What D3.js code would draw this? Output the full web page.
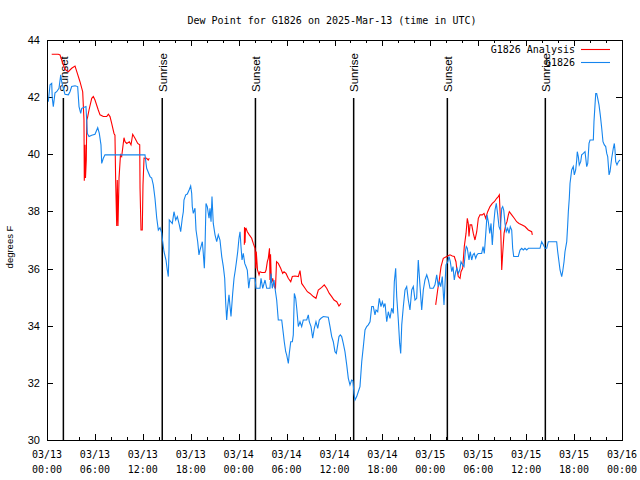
<!DOCTYPE html>
<html><head><meta charset="utf-8">
<script src="https://cdn.jsdelivr.net/npm/d3@7"></script>
<style>body{margin:0;background:#fff}svg{display:block}</style>
</head><body>
<svg id="c" width="640" height="480"></svg>
<script>
const chartTitle = "Dew Point for G1826 on 2025-Mar-13 (time in UTC)";
const yAxisLabel = "degrees F";
const seriesNames = ["G1826 Analysis", "G1826"];
const seriesColors = ["#ff0000", "#1585ee"];
const yTicks = [30, 32, 34, 36, 38, 40, 42, 44];
const xTickHours = [0, 6, 12, 18, 24, 30, 36, 42, 48, 54, 60, 66, 72];
const xTickDates = ["03/13","03/13","03/13","03/13","03/14","03/14","03/14","03/14","03/15","03/15","03/15","03/15","03/16"];
const xTickTimes = ["00:00","06:00","12:00","18:00","00:00","06:00","12:00","18:00","00:00","06:00","12:00","18:00","00:00"];
const xMinorHours = d3.range(0, 73, 2);
const sunsetHours = [2.05, 26.1, 50.13];
const sunriseHours = [14.43, 38.4, 62.4];

// G1826 observations (hours since 03/13 00:00 UTC, dew point F)
const obsHours = [0.16,0.38,0.59,0.66,0.79,1.00,1.21,1.50,1.72,1.84,2.04,2.25,2.67,2.88,3.09,3.51,3.84,4.01,4.22,4.35,4.88,5.05,5.26,5.60,6.01,6.35,6.55,6.76,6.85,7.05,7.26,12.27,12.48,12.90,13.11,13.31,13.52,13.74,13.94,14.15,14.36,14.49,14.65,14.90,15.06,15.19,15.28,15.31,15.49,15.69,15.90,16.12,16.32,16.57,16.74,16.94,17.07,17.15,17.37,17.57,17.82,17.99,18.12,18.19,18.32,18.53,18.66,18.87,19.03,19.16,19.28,19.45,19.57,19.70,19.78,19.91,20.07,20.29,20.41,20.54,20.66,20.82,21.04,21.25,21.45,21.66,21.88,22.08,22.25,22.38,22.50,22.63,22.79,22.92,23.04,23.25,23.42,23.58,23.75,23.88,24.04,24.17,24.29,24.42,24.58,24.76,24.92,25.08,25.26,25.42,26.05,26.17,26.67,26.80,27.01,27.30,27.51,27.92,28.05,28.21,28.42,28.55,28.76,28.96,29.39,29.59,29.71,29.89,30.01,30.22,30.34,30.52,30.72,30.84,30.97,31.14,31.27,31.47,31.68,31.89,32.09,32.52,32.72,32.84,33.06,33.27,33.47,33.68,33.90,34.10,34.31,34.60,35.22,35.44,35.65,35.85,36.06,36.23,36.40,36.56,36.73,36.90,37.10,37.31,37.53,37.73,37.94,38.15,38.31,38.44,38.57,38.78,38.98,39.19,39.41,39.61,39.82,40.03,40.23,40.45,40.66,40.86,41.07,41.20,41.41,41.61,41.82,41.99,42.16,42.33,42.54,42.74,42.95,43.16,43.36,43.49,43.66,43.79,43.99,44.16,44.29,44.42,44.62,44.83,45.04,45.24,45.45,45.67,45.87,46.08,46.29,46.49,46.71,46.92,47.12,47.33,47.55,47.75,47.96,48.37,48.58,48.80,49.00,49.13,49.30,49.50,49.71,49.84,49.96,50.18,50.34,50.50,50.68,50.84,51.00,51.18,51.34,51.50,51.68,51.84,52.05,52.22,52.38,52.50,52.63,52.84,53.00,53.18,53.34,53.50,53.68,53.84,54.00,54.43,54.60,54.76,54.93,55.10,55.26,55.44,55.60,55.76,55.94,56.10,56.26,56.44,56.60,56.76,56.94,57.06,57.19,57.35,57.51,57.69,57.85,58.01,58.19,58.31,58.44,59.01,59.23,59.44,59.64,59.85,60.07,60.27,61.73,61.94,62.15,62.36,62.57,62.77,63.82,63.95,64.11,64.24,64.45,64.57,64.74,64.86,65.08,65.20,65.28,65.40,65.49,65.70,65.90,66.03,66.20,66.33,66.40,66.53,66.65,66.83,66.95,67.16,67.37,67.58,67.71,67.87,68.00,68.41,68.49,68.62,68.71,68.83,68.96,69.12,69.28,69.46,69.62,69.79,69.96,70.09,70.21,70.38,70.50,70.71,70.91,71.04,71.12,71.21,71.37,71.54,71.75];
const obsDew = [41.84,42.43,42.48,41.97,41.67,42.15,42.19,42.31,42.78,42.54,42.32,42.10,42.08,42.19,42.37,42.40,42.37,41.67,41.43,41.61,41.67,40.73,40.62,40.67,40.70,40.93,40.73,40.33,39.68,39.86,39.98,39.98,39.51,39.22,39.17,38.93,38.46,37.77,37.35,37.43,37.25,36.94,36.59,36.30,35.95,35.72,36.65,37.70,37.64,37.58,37.99,37.70,37.82,37.53,37.29,37.76,37.99,38.40,38.58,38.61,38.77,38.89,38.63,38.17,37.93,38.11,37.35,36.94,36.48,36.65,36.77,36.94,36.53,36.01,36.65,38.28,38.17,37.76,38.11,37.64,38.52,37.58,37.18,36.94,37.18,37.00,36.42,36.07,35.66,34.78,34.20,34.67,35.08,34.67,34.32,35.13,35.66,35.95,36.30,36.59,37.06,37.29,36.77,36.30,36.53,36.18,36.07,35.95,35.31,35.66,35.66,35.31,35.31,35.66,35.31,35.60,35.31,35.31,35.83,35.31,35.60,35.31,34.90,34.20,34.20,33.73,33.44,33.09,32.98,32.68,33.03,33.44,33.44,33.68,35.13,34.96,34.61,33.97,34.14,33.97,34.20,34.20,34.38,34.14,33.97,33.56,33.91,34.14,33.91,34.20,34.26,34.32,34.30,33.97,33.62,33.44,33.09,33.03,33.33,33.62,33.68,33.62,33.38,33.09,32.63,32.16,31.93,32.10,32.07,31.63,31.40,31.52,31.69,31.87,32.74,33.27,33.85,33.97,34.03,34.14,34.67,34.67,34.38,34.55,34.49,34.96,34.67,34.84,34.67,34.78,34.14,34.49,34.26,34.61,34.43,35.54,36.01,35.02,34.20,33.38,33.03,34.03,34.67,35.25,35.37,34.90,34.55,35.25,35.37,34.90,34.96,36.30,35.37,34.55,35.25,35.60,35.78,35.60,35.31,35.31,35.43,35.78,35.37,35.54,35.37,35.72,34.73,35.48,36.13,36.24,36.42,36.24,35.89,36.07,35.60,35.89,36.01,35.83,35.95,36.24,36.13,36.07,36.59,36.77,36.71,36.30,36.59,36.30,36.48,36.53,36.36,36.48,36.53,36.53,36.77,36.53,37.18,37.88,37.64,37.23,37.58,36.83,37.58,38.05,38.28,37.88,37.47,37.35,38.11,38.17,38.05,37.58,37.29,37.41,37.23,37.47,37.35,36.71,36.42,36.42,36.65,36.71,36.65,36.71,36.65,36.71,36.71,36.94,36.83,36.71,36.71,36.94,36.94,36.59,36.24,35.95,35.72,35.89,36.24,36.59,36.94,37.53,37.99,38.46,38.98,39.45,39.57,39.28,39.45,39.80,40.09,39.92,39.63,39.74,39.98,40.03,40.09,39.57,39.68,40.38,40.50,40.50,41.14,41.73,42.13,42.13,41.96,41.73,41.38,40.91,40.44,40.33,40.27,40.03,39.92,39.28,39.39,39.86,40.21,40.38,40.15,39.74,39.63,39.74,39.80];

// G1826 Analysis (null = no analysis)
const anlHours = [0.59,1.41,1.63,1.84,2.25,2.67,3.09,3.51,3.80,4.13,4.47,4.63,4.67,4.76,4.82,4.92,4.98,5.10,5.26,5.60,5.80,6.01,6.42,6.64,7.05,7.48,7.68,7.89,8.10,8.39,8.51,8.60,8.73,8.80,8.89,9.02,9.20,9.35,9.64,9.77,9.98,10.31,10.52,10.73,11.02,11.36,11.61,11.65,11.77,11.93,12.02,12.15,12.48,12.68,12.81,13.0,
 24.71,24.73,24.80,24.85,24.92,25.08,25.33,25.63,25.83,26.05,26.15,26.20,26.26,26.36,26.55,26.67,26.89,27.30,27.43,27.59,27.71,27.86,27.92,27.99,28.10,28.26,28.46,28.61,28.74,28.96,29.26,29.51,29.68,29.93,30.21,30.52,30.72,31.05,31.47,31.68,31.89,32.31,32.60,32.93,33.35,33.68,33.97,34.40,34.72,35.02,35.35,35.65,35.94,36.28,36.56,36.81,37.0,
 48.67,48.92,49.12,49.34,49.62,50.05,50.46,50.75,51.00,51.21,51.30,51.50,51.72,51.84,52.05,52.25,52.47,52.63,52.75,52.84,52.97,53.18,53.38,53.59,53.81,54.01,54.22,54.51,54.72,54.93,55.18,55.47,55.76,56.01,56.31,56.51,56.64,56.76,56.85,56.94,57.06,57.23,57.44,57.60,57.77,57.89,58.19,58.51,58.81,59.10,59.44,59.85,60.27,60.69,60.77];
const anlDew = [43.50,43.50,43.48,43.30,42.97,42.89,43.01,43.09,42.83,42.54,42.19,41.20,39.07,40.33,39.17,39.80,41.20,41.32,41.55,41.96,42.02,41.90,41.55,41.38,41.32,41.32,41.40,41.32,41.08,40.73,40.67,39.03,37.49,39.10,37.49,39.17,39.98,39.92,40.58,40.44,40.38,40.44,40.33,40.70,40.56,40.38,40.33,38.82,37.35,37.35,38.93,39.87,39.86,39.80,39.86,null,
 36.83,37.45,36.90,37.40,37.41,37.29,37.18,37.06,36.88,36.71,36.00,36.60,36.36,35.95,35.78,35.89,35.86,35.86,35.95,36.24,36.36,36.71,35.60,36.50,35.50,35.66,35.37,35.31,36.24,36.18,36.01,35.83,35.89,35.83,35.66,35.54,35.72,35.74,35.72,35.93,35.48,35.31,35.19,35.13,35.02,34.96,35.25,35.34,35.43,35.31,35.13,35.02,34.90,34.84,34.69,34.78,null,
 34.73,35.25,35.60,36.07,36.36,36.42,36.48,36.44,36.42,36.24,36.01,35.72,35.66,35.89,36.01,36.77,37.23,37.76,37.58,37.12,37.53,37.53,37.23,37.00,37.29,37.76,37.88,37.88,37.93,37.76,37.99,38.17,38.28,38.34,38.46,38.52,38.58,37.82,37.00,35.95,36.53,37.23,37.53,37.64,37.88,37.99,37.88,37.76,37.64,37.58,37.53,37.47,37.35,37.29,37.18];

const svg = d3.select("#c");
const L = 47, R = 622, T = 40, B = 440;
const x = d3.scaleLinear().domain([0, 72]).range([L, R]);
const y = d3.scaleLinear().domain([30, 44]).range([B, T]);
const mono = "'DejaVu Sans Mono', monospace";
const sans = "'Liberation Sans', Arial, sans-serif";

svg.append("rect").attr("width", 640).attr("height", 480).attr("fill", "#fff");

// title
svg.append("text").attr("x", 332).attr("y", 24).attr("text-anchor", "middle")
  .attr("font-family", mono).attr("font-size", 10).text(chartTitle);

// y-axis label
svg.append("text").attr("transform", "translate(13,247) rotate(-90)").attr("text-anchor", "middle")
  .attr("font-family", sans).attr("font-size", 9.5).text(yAxisLabel);

// axes (ticks inward, mirrored)
const tk = 6, tkm = 3;
const axL = d3.axisRight(y).tickValues(yTicks).tickSize(tk).tickFormat("");
const axR = d3.axisLeft(y).tickValues(yTicks).tickSize(tk).tickFormat("");
const axB = d3.axisTop(x).tickValues(xTickHours).tickSize(tk).tickFormat("");
const axT = d3.axisBottom(x).tickValues(xTickHours).tickSize(tk).tickFormat("");
const axBm = d3.axisTop(x).tickValues(xMinorHours).tickSize(tkm).tickFormat("");
const axTm = d3.axisBottom(x).tickValues(xMinorHours).tickSize(tkm).tickFormat("");
[[axL, `translate(${L},0)`],[axR, `translate(${R},0)`],[axB, `translate(0,${B})`],[axT, `translate(0,${T})`],
 [axBm, `translate(0,${B})`],[axTm, `translate(0,${T})`]].forEach(([a, t]) => {
  const g = svg.append("g").attr("transform", t).call(a);
  g.select(".domain").remove();
  g.selectAll("line").attr("stroke", "#000").attr("shape-rendering", "crispEdges");
});

// y tick labels
svg.append("g").selectAll("text").data(yTicks).join("text")
  .attr("x", 40).attr("y", d => y(d)).attr("dy", "0.36em").attr("text-anchor", "end")
  .attr("font-family", sans).attr("font-size", 11).text(d => d);

// x tick labels
const xl = svg.append("g").selectAll("text").data(xTickHours).join("text")
  .attr("x", d => x(d)).attr("text-anchor", "middle").attr("font-family", mono).attr("font-size", 10);
xl.append("tspan").attr("x", d => x(d)).attr("y", 458).text((d, i) => xTickDates[i]);
xl.append("tspan").attr("x", d => x(d)).attr("y", 473).text((d, i) => xTickTimes[i]);

// sunrise / sunset markers
const events = sunsetHours.map(h => ({h, label: "Sunset"})).concat(sunriseHours.map(h => ({h, label: "Sunrise"})));
events.forEach(e => {
  svg.append("line").attr("x1", x(e.h)).attr("x2", x(e.h)).attr("y1", 98).attr("y2", B)
    .attr("stroke", "#000").attr("stroke-width", 1.5);
  svg.append("text").attr("transform", `translate(${x(e.h) + 0.5},92) rotate(-90)`)
    .attr("dy", "0.36em").attr("font-family", sans).attr("font-size", 11.5).text(e.label);
});

// data lines
const line = d3.line().defined(d => d.v !== null).x(d => x(d.h)).y(d => y(d.v));
const anl = anlHours.map((h, i) => ({h, v: anlDew[i]}));
const obs = obsHours.map((h, i) => ({h, v: obsDew[i]}));
svg.append("path").datum(anl).attr("d", line).attr("fill", "none").attr("stroke", seriesColors[0]).attr("stroke-width", 1.1);
svg.append("path").datum(obs).attr("d", line).attr("fill", "none").attr("stroke", seriesColors[1]).attr("stroke-width", 1.1);

// frame
svg.append("rect").attr("x", L).attr("y", T).attr("width", R - L).attr("height", B - T)
  .attr("fill", "none").attr("stroke", "#000").attr("shape-rendering", "crispEdges");

// legend
seriesNames.forEach((n, i) => {
  const ly = 49.5 + i * 13;
  svg.append("text").attr("x", 575).attr("y", ly).attr("dy", "0.36em").attr("text-anchor", "end")
    .attr("font-family", mono).attr("font-size", 10).text(n);
  svg.append("line").attr("x1", 581).attr("x2", 610).attr("y1", ly).attr("y2", ly)
    .attr("stroke", seriesColors[i]).attr("stroke-width", 1.1);
});
</script>
</body></html>
